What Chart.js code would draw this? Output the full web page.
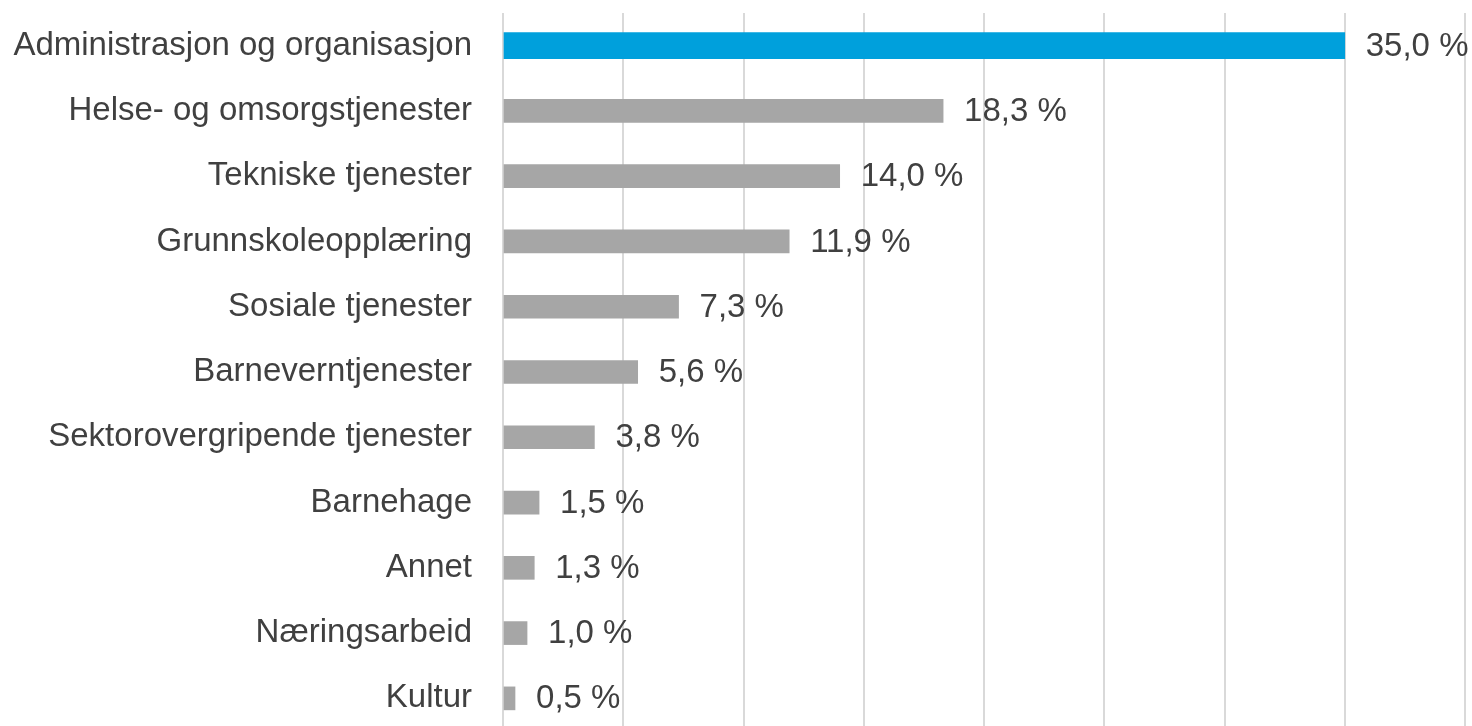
<!DOCTYPE html>
<html lang="no">
<head>
    <meta charset="UTF-8">
    <title>Fordeling etter tjenesteområde</title>
    <script src="https://cdn.jsdelivr.net/npm/chart.js"></script>
    <style>
        body {
            margin: 0;
            background: #fff;
            overflow: hidden;
        }
        #wrap {
            width: 1472px;
            height: 726px;
            overflow: hidden;
        }
    </style>
</head>
<body>
    <div id="wrap">
        <!-- litt høyere enn vinduet: nederste rad er delvis kuttet som i originalen -->
        <canvas id="chart" width="1472" height="731"></canvas>
    </div>
    <script>
        // kategorier og verdier (prosent)
        const categories = [
            'Administrasjon og organisasjon',
            'Helse- og omsorgstjenester',
            'Tekniske tjenester',
            'Grunnskoleopplæring',
            'Sosiale tjenester',
            'Barneverntjenester',
            'Sektorovergripende tjenester',
            'Barnehage',
            'Annet',
            'Næringsarbeid',
            'Kultur'
        ];
        const values = [35.0, 18.3, 14.0, 11.9, 7.3, 5.6, 3.8, 1.5, 1.3, 1.0, 0.5];
        const highlightIndex = 0;
        const axisMax = 40;
        const axisStep = 5;

        const blueData = values.map((v, i) => i === highlightIndex ? v : null);
        const greyData = values.map((v, i) => i === highlightIndex ? null : v);

        const textColor = '#404040';
        const fontFamily = "'Liberation Sans', Arial, sans-serif";

        // verdietiketter til høyre for stolpene
        const valueLabels = {
            id: 'valueLabels',
            afterDatasetsDraw(chart) {
                const ctx = chart.ctx;
                ctx.save();
                ctx.font = `33px ${fontFamily}`;
                ctx.fillStyle = textColor;
                ctx.textAlign = 'left';
                ctx.textBaseline = 'middle';
                chart.data.datasets.forEach((ds, di) => {
                    const meta = chart.getDatasetMeta(di);
                    meta.data.forEach((bar, i) => {
                        const v = ds.data[i];
                        if (v === null) return;
                        const txt = v.toFixed(1).replace('.', ',') + ' %';
                        ctx.fillText(txt, bar.x + 21, bar.y + 1);
                    });
                });
                ctx.restore();
            }
        };

        new Chart(document.getElementById('chart'), {
            type: 'bar',
            data: {
                labels: categories,
                datasets: [{
                    data: blueData,
                    backgroundColor: '#00a0dc',
                    barThickness: 26,
                    skipNull: true
                }, {
                    data: greyData,
                    backgroundColor: '#a6a6a6',
                    barThickness: 23,
                    skipNull: true
                }]
            },
            options: {
                indexAxis: 'y',
                responsive: false,
                animation: false,
                grouped: false,
                layout: {
                    padding: { left: 12, top: 13, right: 7, bottom: 0 }
                },
                plugins: {
                    legend: { display: false },
                    tooltip: { enabled: false }
                },
                scales: {
                    x: {
                        min: 0,
                        max: axisMax,
                        ticks: { display: false, stepSize: axisStep },
                        grid: { color: '#d9d9d9', lineWidth: 2, drawTicks: false },
                        border: { display: false },
                        afterFit(scale) {
                            scale.height = 0;
                            scale.paddingLeft = 0;
                            scale.paddingRight = 0;
                        }
                    },
                    y: {
                        grid: { display: false, drawTicks: false },
                        border: { display: false },
                        ticks: {
                            color: textColor,
                            padding: 31,
                            font: { size: 33, family: fontFamily }
                        },
                        afterFit(scale) {
                            scale.width = 491;
                            scale.paddingTop = 0;
                            scale.paddingBottom = 0;
                        }
                    }
                }
            },
            plugins: [valueLabels]
        });
    </script>
</body>
</html>
